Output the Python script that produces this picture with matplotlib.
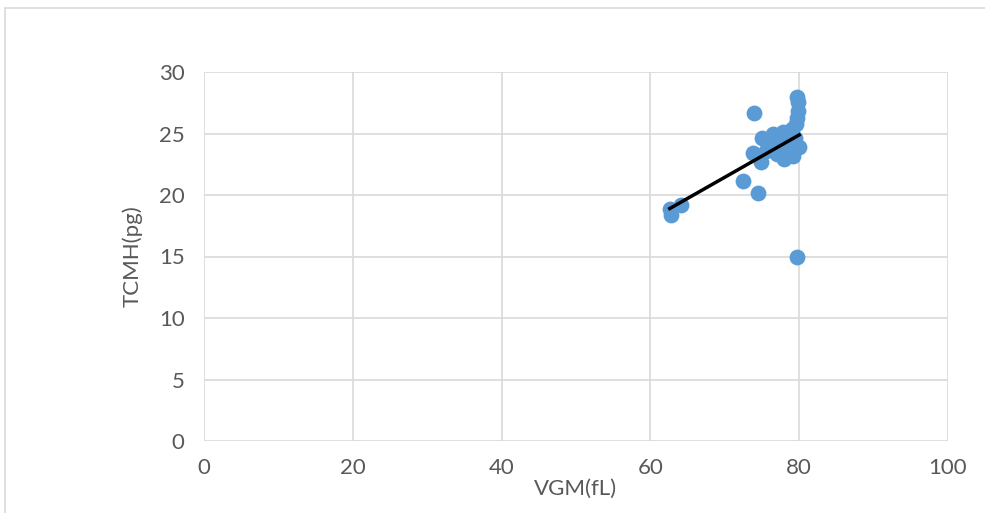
import numpy as np
import matplotlib
matplotlib.use("Agg")
import matplotlib.pyplot as plt
from matplotlib.patches import Rectangle

# VGM (fL) vs TCMH (pg) measurements
vgm = [62.6, 62.8, 64.1, 72.4, 74.5, 79.7, 73.9, 73.8, 74.8, 75.0,
       76.5, 76.2, 77.0, 77.6, 77.8, 78.0, 78.4, 78.6, 79.0, 79.2,
       79.4, 79.6, 79.7, 79.8, 79.7, 79.9, 80.0, 79.5, 78.8, 77.2,
       76.8, 75.6]
tcmh = [18.9, 18.4, 19.2, 21.1, 20.2, 15.0, 26.7, 23.4, 22.7, 24.6,
        25.0, 23.8, 23.3, 24.2, 25.1, 22.9, 23.5, 24.6, 25.4, 23.2,
        24.0, 25.8, 26.3, 26.8, 28.0, 27.6, 23.9, 24.6, 23.9, 24.6,
        24.0, 23.6]

x_ticks = [0, 20, 40, 60, 80, 100]
y_ticks = [0, 5, 10, 15, 20, 25, 30]

grid_col = "#d9d9d9"
text_col = "#595959"
point_col = "#5b9bd5"

plt.rcParams["font.family"] = ["Lato", "DejaVu Sans"]

fig = plt.figure(figsize=(9.85, 5.13), dpi=100)
fig.patches.append(Rectangle((5 / 985, -0.1), 1.2, 1 - 8 / 513 + 0.1,
                             transform=fig.transFigure, fill=False,
                             edgecolor=grid_col, linewidth=1.2))

ax = fig.add_axes([204 / 985, 72 / 513, (948 - 204) / 985, (441 - 72) / 513])
ax.set_xlim(0, 100)
ax.set_ylim(0, 30)
ax.set_xticks(x_ticks)
ax.set_yticks(y_ticks)
ax.grid(True, color=grid_col, linewidth=1.2)
ax.set_axisbelow(True)
for s in ax.spines.values():
    s.set_visible(False)
ax.tick_params(length=0, labelsize=16, labelcolor=text_col)
ax.tick_params(axis="x", pad=12)
ax.tick_params(axis="y", pad=14)

ax.scatter(vgm, tcmh, s=130, color=point_col, zorder=3, linewidths=0)

# linear trend line over the data range
coef = np.polyfit(vgm, tcmh, 1)
xs = np.array([min(vgm), max(vgm)])
ax.plot(xs, np.polyval(coef, xs), color="black", linewidth=2.5, zorder=4)

ax.set_xlabel("VGM(fL)", fontsize=16, color=text_col, labelpad=1)
ax.set_ylabel("TCMH(pg)", fontsize=16, color=text_col, labelpad=12)

fig.savefig("out.png", dpi=100)
